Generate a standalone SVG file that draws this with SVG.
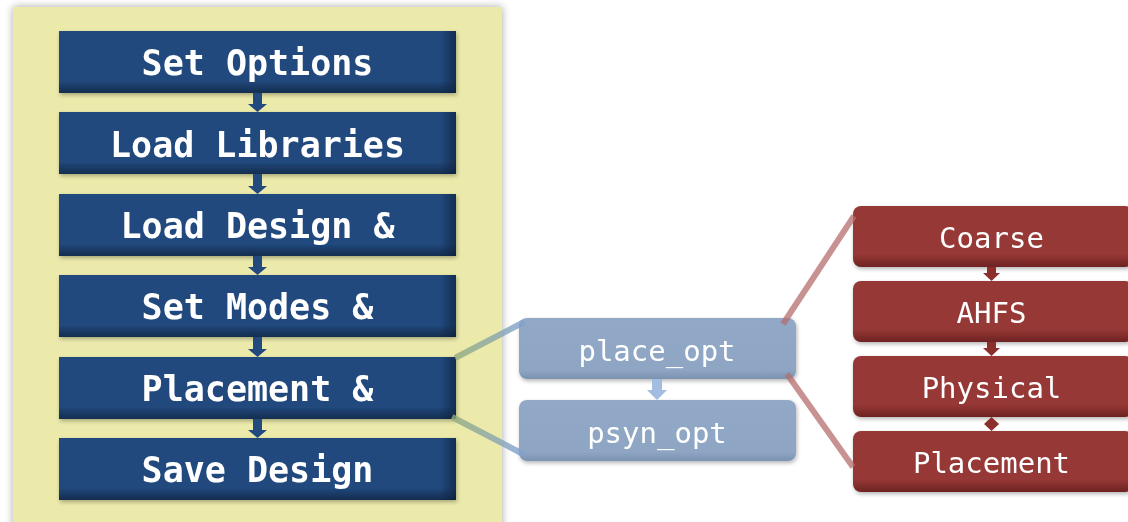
<svg xmlns="http://www.w3.org/2000/svg" width="1128" height="522" viewBox="0 0 1128 522">
  <defs>
    <filter id="soft" x="-10%" y="-10%" width="120%" height="120%">
      <feGaussianBlur in="SourceAlpha" stdDeviation="4"/>
      <feOffset dx="0" dy="0"/>
      <feComponentTransfer><feFuncA type="linear" slope="0.35"/></feComponentTransfer>
      <feMerge><feMergeNode/><feMergeNode in="SourceGraphic"/></feMerge>
    </filter>
    <filter id="drop" x="-10%" y="-20%" width="125%" height="150%">
      <feGaussianBlur in="SourceAlpha" stdDeviation="2"/>
      <feOffset dx="1" dy="2"/>
      <feComponentTransfer><feFuncA type="linear" slope="0.3"/></feComponentTransfer>
      <feMerge><feMergeNode/><feMergeNode in="SourceGraphic"/></feMerge>
    </filter>
    <linearGradient id="blueV" x1="0" y1="0" x2="0" y2="1">
      <stop offset="0" stop-color="#224a7e"/>
      <stop offset="0.8" stop-color="#224a7e"/>
      <stop offset="1" stop-color="#132c4e"/>
    </linearGradient>
    <linearGradient id="blueH" x1="0" y1="0" x2="1" y2="0">
      <stop offset="0.96" stop-color="#0d213c" stop-opacity="0"/>
      <stop offset="1" stop-color="#0d213c" stop-opacity="0.7"/>
    </linearGradient>
    <linearGradient id="redV" x1="0" y1="0" x2="0" y2="1">
      <stop offset="0" stop-color="#963735"/>
      <stop offset="0.8" stop-color="#963735"/>
      <stop offset="1" stop-color="#6e2322"/>
    </linearGradient>
    <linearGradient id="greyV" x1="0" y1="0" x2="0" y2="1">
      <stop offset="0" stop-color="#91a9c6"/>
      <stop offset="0.85" stop-color="#8ea6c3"/>
      <stop offset="1" stop-color="#7b93b1"/>
    </linearGradient>
    <linearGradient id="linkUp" gradientUnits="userSpaceOnUse" x1="455" y1="358" x2="524" y2="322">
      <stop offset="0" stop-color="#93ab7c"/>
      <stop offset="1" stop-color="#7e9fd0"/>
    </linearGradient>
    <linearGradient id="linkDown" gradientUnits="userSpaceOnUse" x1="452" y1="417" x2="523" y2="454">
      <stop offset="0" stop-color="#93ab7c"/>
      <stop offset="1" stop-color="#7e9fd0"/>
    </linearGradient>
    <style>
      .step { fill: url(#blueV); }
      .edge { fill: url(#blueH); }
      .stepText { font-family: "DejaVu Sans Mono", "Liberation Mono", monospace; font-weight: bold; font-size: 35px; fill: #ffffff; text-anchor: middle; }
      .opt { fill: url(#greyV); }
      .optText { font-family: "DejaVu Sans Mono", "Liberation Mono", monospace; font-size: 29px; fill: #ffffff; text-anchor: middle; }
      .sub { fill: url(#redV); }
      .subText { font-family: "DejaVu Sans Mono", "Liberation Mono", monospace; font-size: 29px; fill: #ffffff; text-anchor: middle; }
      .flowArrow { fill: #224a7e; }
      .optArrow { fill: #a3bde0; }
      .subArrow { fill: #8c2e2c; }
      .zoomRed { stroke: #b66e6e; stroke-width: 6; stroke-opacity: 0.75; }
    </style>
  </defs>

  <rect width="1128" height="522" fill="#ffffff"/>

  <!-- Flow panel background -->
  <rect x="13" y="7" width="489" height="530" fill="#ebeaab" filter="url(#soft)"/>

  <!-- Main flow steps -->
  <g id="set-options" filter="url(#drop)">
    <rect class="step" x="59" y="31" width="397" height="62"/>
    <rect class="edge" x="59" y="31" width="397" height="62"/>
    <text class="stepText" x="257.5" y="75">Set Options</text>
  </g>
  <g id="load-libraries" filter="url(#drop)">
    <rect class="step" x="59" y="112" width="397" height="62"/>
    <rect class="edge" x="59" y="112" width="397" height="62"/>
    <text class="stepText" x="257.5" y="157">Load Libraries</text>
  </g>
  <g id="load-design" filter="url(#drop)">
    <rect class="step" x="59" y="194" width="397" height="62"/>
    <rect class="edge" x="59" y="194" width="397" height="62"/>
    <text class="stepText" x="257.5" y="238">Load Design &amp;</text>
  </g>
  <g id="set-modes" filter="url(#drop)">
    <rect class="step" x="59" y="275" width="397" height="62"/>
    <rect class="edge" x="59" y="275" width="397" height="62"/>
    <text class="stepText" x="257.5" y="319">Set Modes &amp;</text>
  </g>
  <g id="placement" filter="url(#drop)">
    <rect class="step" x="59" y="357" width="397" height="62"/>
    <rect class="edge" x="59" y="357" width="397" height="62"/>
    <text class="stepText" x="257.5" y="401">Placement &amp;</text>
  </g>
  <g id="save-design" filter="url(#drop)">
    <rect class="step" x="59" y="438" width="397" height="62"/>
    <rect class="edge" x="59" y="438" width="397" height="62"/>
    <text class="stepText" x="257.5" y="482">Save Design</text>
  </g>

  <!-- Placement commands -->
  <g id="place-opt" filter="url(#drop)">
    <rect class="opt" x="519" y="318" width="277" height="61" rx="8"/>
    <text class="optText" x="657" y="361">place_opt</text>
  </g>
  <g id="psyn-opt" filter="url(#drop)">
    <rect class="opt" x="519" y="400" width="277" height="61" rx="8"/>
    <text class="optText" x="657" y="443">psyn_opt</text>
  </g>

  <!-- place_opt internal stages -->
  <g id="coarse" filter="url(#drop)">
    <rect class="sub" x="853" y="206" width="280" height="61" rx="8"/>
    <text class="subText" x="991.5" y="248">Coarse</text>
  </g>
  <g id="ahfs" filter="url(#drop)">
    <rect class="sub" x="853" y="281" width="280" height="61" rx="8"/>
    <text class="subText" x="991.5" y="323">AHFS</text>
  </g>
  <g id="physical" filter="url(#drop)">
    <rect class="sub" x="853" y="356" width="280" height="61" rx="8"/>
    <text class="subText" x="991.5" y="398">Physical</text>
  </g>
  <g id="placement-stage" filter="url(#drop)">
    <rect class="sub" x="853" y="431" width="280" height="61" rx="8"/>
    <text class="subText" x="991.5" y="473">Placement</text>
  </g>

  <!-- Connectors -->
  <g id="connectors">
    <!-- main flow arrows -->
    <path class="flowArrow" d="M253 93 H262 V104 H267 L257.5 112 L248 104 H253 Z"/>
    <path class="flowArrow" d="M253 174 H262 V186 H267 L257.5 194 L248 186 H253 Z"/>
    <path class="flowArrow" d="M253 256 H262 V267 H267 L257.5 275 L248 267 H253 Z"/>
    <path class="flowArrow" d="M253 337 H262 V349 H267 L257.5 357 L248 349 H253 Z"/>
    <path class="flowArrow" d="M253 419 H262 V430 H267 L257.5 438 L248 430 H253 Z"/>
    <!-- place_opt to psyn_opt -->
    <path class="optArrow" d="M652 379 H662 V390 H667 L657 400 L647 390 H652 Z"/>
    <!-- placement sub-steps -->
    <path class="subArrow" d="M987 267 H996 V273 H1000 L991.5 281 L983 273 H987 Z"/>
    <path class="subArrow" d="M987 342 H996 V348 H1000 L991.5 356 L983 348 H987 Z"/>
    <path class="subArrow" d="M991.5 417 L999 424 L991.5 431 L984 424 Z"/>
    <!-- zoom links -->
    <line x1="455" y1="358" x2="524" y2="322" stroke="url(#linkUp)" stroke-width="6" stroke-opacity="0.8"/>
    <line x1="452" y1="417" x2="523" y2="454" stroke="url(#linkDown)" stroke-width="6" stroke-opacity="0.8"/>
    <line class="zoomRed" x1="783" y1="324" x2="854" y2="216"/>
    <line class="zoomRed" x1="787" y1="374" x2="853" y2="467"/>
  </g>
</svg>
